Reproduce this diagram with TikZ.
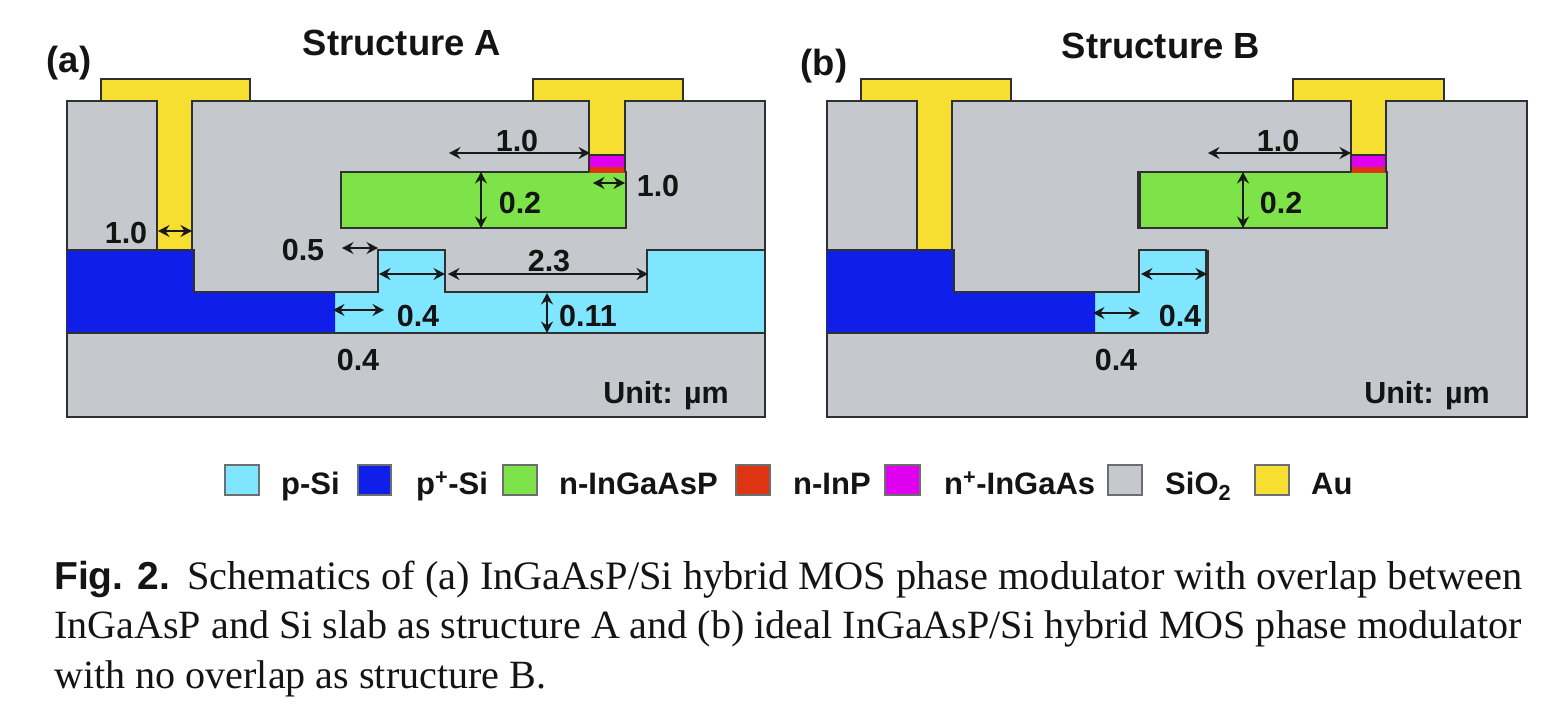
\documentclass[tikz,border=0pt]{standalone}
\usepackage{fontspec}
\setmainfont{Liberation Serif}
\newfontfamily\arialf{Liberation Sans}
\usetikzlibrary{arrows.meta}
\definecolor{oxide}{HTML}{C5C8CC}
\definecolor{psi}{HTML}{80E5FF}
\definecolor{ppsi}{HTML}{101EEA}
\definecolor{ingaasp}{HTML}{7DE348}
\definecolor{inp}{HTML}{DE3412}
\definecolor{ingaas}{HTML}{E000F0}
\definecolor{gold}{HTML}{F7DF32}
\definecolor{edge}{HTML}{2E3032}
\tikzset{
  x=1pt,y=-1pt,
  outline/.style={draw=edge,line width=2.2pt,line join=miter},
  dim/.style={draw=black!90,line width=1.5pt,{Stealth[length=11.5pt,width=12pt,inset=4pt]}-{Stealth[length=11.5pt,width=12pt,inset=4pt]}},
  dimtxt/.style={font=\arialf\bfseries\fontsize{30.5}{34}\selectfont,inner sep=0pt,text=black!92},
  headtxt/.style={font=\arialf\bfseries\fontsize{36.4}{38}\selectfont,inner sep=0pt,text=black!92},
  legtxt/.style={font=\arialf\bfseries\fontsize{31}{34}\selectfont,inner sep=0pt,anchor=base west,text=black!92},
  swatch/.style={draw=edge!70,line width=1.4pt},
  captxt/.style={font=\fontsize{40.1}{49}\selectfont,inner sep=0pt,anchor=base west,text=black!92},
}
\begin{document}
\begin{tikzpicture}
\useasboundingbox (0,0) rectangle (1556,718);
% ---------- panel a
\draw[outline,fill=oxide] (67,101) rectangle (765,417);
\fill[psi] (335,292) -- (378,292) -- (378,250) -- (445,250) -- (445,292) -- (647,292) -- (647,250) -- (765,250) -- (765,333) -- (335,333) -- cycle;
\fill[ppsi] (67,250) -- (194,250) -- (194,292) -- (335,292) -- (335,333) -- (67,333) -- cycle;
\draw[outline] (67,250) -- (194,250) -- (194,292) -- (378,292) -- (378,250) -- (445,250) -- (445,292) -- (647,292) -- (647,250) -- (765,250);
\draw[outline] (67,333) -- (765,333);
\draw[outline] (765,250) -- (765,333);
\draw[outline,fill=ingaasp] (341,172) rectangle (626,228);
\draw[outline,fill=gold] (101,101) -- (101,79) -- (250,79) -- (250,101) -- (192,101) -- (192,250) -- (157,250) -- (157,101) -- cycle;
\draw[outline,fill=gold] (533,101) -- (533,79) -- (683,79) -- (683,101) -- (625,101) -- (625,155) -- (589,155) -- (589,101) -- cycle;
\fill[ingaas] (589,155) rectangle (625,167);
\fill[inp] (589,167) rectangle (625,173);
\draw[outline] (589,155) -- (625,155) -- (625,172) (589,155) -- (589,172);
\draw[dim] (158,231) -- (192,231);
\draw[dim] (342,248) -- (378,248);
\draw[dim] (379,274) -- (445,274);
\draw[dim] (333,310) -- (384,310);
\draw[dim] (448,274) -- (648,274);
\draw[dim] (547,293) -- (547,333);
\draw[dim] (449,153) -- (590,153);
\draw[dim] (481,172) -- (481,228);
\draw[dim] (593,183) -- (625,183);
\node[dimtxt] (a10l) at (126,233) {1.0};
\node[dimtxt] (a05) at (303,250) {0.5};
\node[dimtxt] (a04t) at (418,316) {0.4};
\node[dimtxt] (a04b) at (358,360) {0.4};
\node[dimtxt] (a23) at (549,261) {2.3};
\node[dimtxt] (a011) at (588,316) {0.11};
\node[dimtxt] (a10t) at (517,141) {1.0};
\node[dimtxt] (a02) at (520,203) {0.2};
\node[dimtxt] (a10r) at (658,186) {1.0};
\node[dimtxt] (aunit) at (666,396) {Unit: µm};
\node[headtxt] (alab) at (69,63) {(a)};
\node[headtxt] (atitle) at (402,43) {Structure A};
% ---------- panel b
\draw[outline,fill=oxide] (827,101) rectangle (1527,417);
\fill[psi] (1095,292) -- (1139,292) -- (1139,250) -- (1207,250) -- (1207,333) -- (1095,333) -- cycle;
\fill[ppsi] (827,250) -- (954,250) -- (954,292) -- (1095,292) -- (1095,333) -- (827,333) -- cycle;
\draw[outline] (827,250) -- (954,250) -- (954,292) -- (1139,292) -- (1139,250) -- (1207,250);
\draw[outline,line width=3.4pt] (1207,250) -- (1207,333);
\draw[outline] (827,333) -- (1208,333);
\draw[outline,fill=ingaasp] (1139,172) rectangle (1387,228);
\draw[outline,line width=4pt] (1139,171) -- (1139,229);
\draw[outline,fill=gold] (861,101) -- (861,79) -- (1011,79) -- (1011,101) -- (952,101) -- (952,250) -- (917,250) -- (917,101) -- cycle;
\draw[outline,fill=gold] (1293,101) -- (1293,79) -- (1444,79) -- (1444,101) -- (1386,101) -- (1386,155) -- (1351,155) -- (1351,101) -- cycle;
\fill[ingaas] (1351,155) rectangle (1386,167);
\fill[inp] (1351,167) rectangle (1386,173);
\draw[outline] (1351,155) -- (1386,155) -- (1386,172) (1351,155) -- (1351,172);
\draw[dim] (1208,153) -- (1351,153);
\draw[dim] (1243,172) -- (1243,228);
\draw[dim] (1141,274) -- (1207,274);
\draw[dim] (1093,313) -- (1140,313);
\node[dimtxt] (b10) at (1278,141) {1.0};
\node[dimtxt] (b02) at (1281,203) {0.2};
\node[dimtxt] (b04t) at (1180,316) {0.4};
\node[dimtxt] (b04b) at (1116,360) {0.4};
\node[dimtxt] (bunit) at (1427,396) {Unit: µm};
\node[headtxt] (blab) at (824,66) {(b)};
\node[headtxt] (btitle) at (1161,46) {Structure B};
% ---------- legend
\draw[swatch,fill=psi] (225,465) rectangle (259,495);
\draw[swatch,fill=ppsi] (358,465) rectangle (391,495);
\draw[swatch,fill=ingaasp] (503,465) rectangle (537,495);
\draw[swatch,fill=inp] (736,465) rectangle (770,495);
\draw[swatch,fill=ingaas] (885,465) rectangle (920,495);
\draw[swatch,fill=oxide] (1108,465) rectangle (1142,495);
\draw[swatch,fill=gold] (1255,465) rectangle (1289,495);
\node[legtxt] (l1) at (281,494) {p-Si};
\node[legtxt] (l2) at (416,494) {p\textsuperscript{+}-Si};
\node[legtxt] (l3) at (559,494) {n-InGaAsP};
\node[legtxt] (l4) at (793,494) {n-InP};
\node[legtxt] (l5) at (944,494) {n\textsuperscript{+}-InGaAs};
\node[legtxt] (l6) at (1165,494) {SiO\textsubscript{2}};
\node[legtxt] (l7) at (1311,494) {Au};
% ---------- caption
\node[captxt,font=\arialf\bfseries\fontsize{39}{49}\selectfont] (figlab) at (54,589) {Fig. 2.};
\node[captxt,font=\fontsize{40.4}{49}\selectfont] (c1) at (187,589) {Schematics of (a) InGaAsP/Si hybrid MOS phase modulator with overlap between};
\node[captxt] (c2) at (54,638) {InGaAsP and Si slab as structure A and (b) ideal InGaAsP/Si hybrid MOS phase modulator};
\node[captxt] (c3) at (54,688) {with no overlap as structure B.};
\end{tikzpicture}
\end{document}
